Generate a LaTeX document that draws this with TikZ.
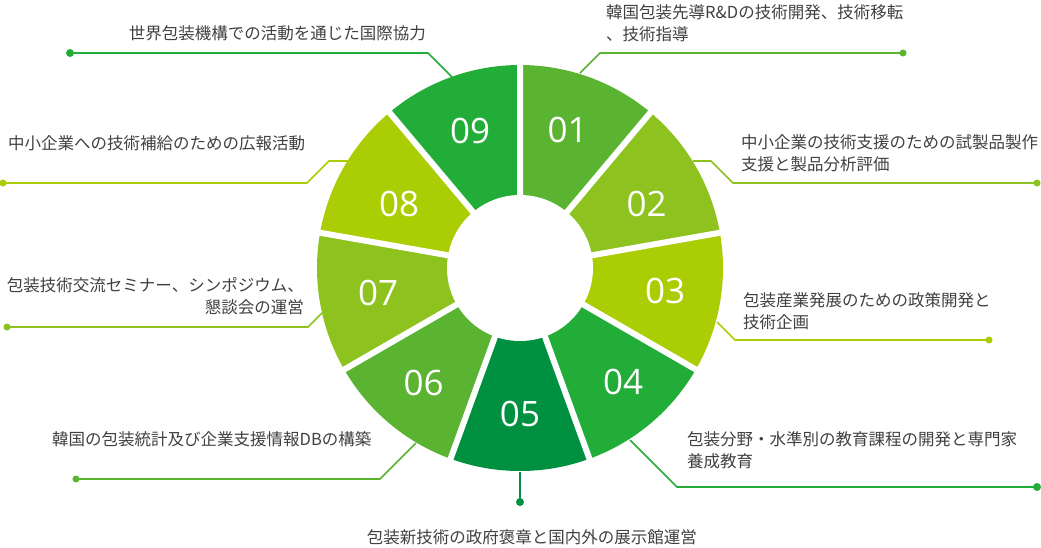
\documentclass[tikz,border=0pt]{standalone}
\usepackage{fontspec}
\setmainfont{Noto Sans CJK JP}
\newfontfamily\numfont{Open Sans}
\usepackage{tikz}
\usetikzlibrary{calc}

\definecolor{c01}{HTML}{5AB432}
\definecolor{c02}{HTML}{8DC21F}
\definecolor{c03}{HTML}{ABCD03}
\definecolor{c04}{HTML}{22AC38}
\definecolor{c05}{HTML}{009140}
\definecolor{txtgray}{HTML}{404040}

\tikzset{
  num/.style={text=white, font=\numfont\fontsize{35}{35}\selectfont, inner sep=0pt},
  txt/.style={text=txtgray, font=\fontsize{16.5}{21.5}\selectfont, inner sep=0pt},
  wire/.style={line width=1.6pt},
  gap/.style={white, line width=6pt},
}

\begin{document}
\begin{tikzpicture}[x=1pt, y=1pt]
        \useasboundingbox (-520,-279) rectangle (521,268);

        % Draw the ring sectors
        \fill[c01] (0,0) -- (50:203) arc[start angle=50, end angle=90, radius=203] -- cycle; % 01
        \fill[c02] (0,0) -- (10:203) arc[start angle=10, end angle=50, radius=203] -- cycle; % 02
        \fill[c03] (0,0) -- (-30:203) arc[start angle=-30, end angle=10, radius=203] -- cycle; % 03
        \fill[c04] (0,0) -- (-70:203) arc[start angle=-70, end angle=-30, radius=203] -- cycle; % 04
        \fill[c05] (0,0) -- (-110:203) arc[start angle=-110, end angle=-70, radius=203] -- cycle; % 05
        \fill[c01] (0,0) -- (-150:203) arc[start angle=-150, end angle=-110, radius=203] -- cycle; % 06
        \fill[c02] (0,0) -- (170:203) arc[start angle=170, end angle=210, radius=203] -- cycle; % 07
        \fill[c03] (0,0) -- (130:203) arc[start angle=130, end angle=170, radius=203] -- cycle; % 08
        \fill[c04] (0,0) -- (90:203) arc[start angle=90, end angle=130, radius=203] -- cycle; % 09

        % white gaps and the hole
        \draw[gap] (0,0) -- (10:210) (0,0) -- (50:210) (0,0) -- (90:210)
                   (0,0) -- (130:210) (0,0) -- (170:210) (0,0) -- (210:210)
                   (0,0) -- (250:210) (0,0) -- (290:210) (0,0) -- (330:210);
        \fill[white] (0,0) circle (73);

        % numbers
        \node[num] (n01) at (71:146) {01};
        \node[num] (n02) at (27:142) {02};
        \node[num] (n03) at (-9:147) {03};
        \node[num] (n04) at (-48:154) {04};
        \node[num] (n05) at (-90:146) {05};
        \node[num] (n06) at (230:150) {06};
        \node[num] (n07) at (190:144) {07};
        \node[num] (n08) at (152:137) {08};
        \node[num] (n09) at (110:146) {09};

        % end points of the leaders
        \coordinate (e01) at (60,195);   \coordinate (k01) at (80,215);   \coordinate (d01) at (383,215);
        \coordinate (e02) at (173,107);  \coordinate (k02) at (191,107);  \coordinate (m02) at (213,85);  \coordinate (d02) at (517,85);
        \coordinate (e03) at (197,-54);  \coordinate (k03) at (215,-72);  \coordinate (d03) at (469,-72);
        \coordinate (e04) at (110,-172); \coordinate (k04) at (157,-219); \coordinate (d04) at (517,-219);
        \coordinate (e05) at (0,-204);   \coordinate (d05) at (0,-234);
        \coordinate (e06) at (-104,-175); \coordinate (k06) at (-140,-211); \coordinate (d06) at (-444,-211);
        \coordinate (e07) at (-198,-45); \coordinate (k07) at (-212,-59); \coordinate (d07) at (-513,-59);
        \coordinate (e08) at (-172,107); \coordinate (k08) at (-191,107); \coordinate (m08) at (-213,85); \coordinate (d08) at (-517,85);
        \coordinate (e09) at (-68,191);  \coordinate (k09) at (-92,215);  \coordinate (d09) at (-450,215);

        % draw the leaders
        \draw[wire, c01] (e01) -- (k01) -- (d01);
        \draw[wire, c02] (e02) -- (k02) -- (m02) -- (d02);
        \draw[wire, c03] (e03) -- (k03) -- (d03);
        \draw[wire, c04] (e04) -- (k04) -- (d04);
        \draw[wire, c05] (e05) -- (d05);
        \draw[wire, c01] (e06) -- (k06) -- (d06);
        \draw[wire, c02] (e07) -- (k07) -- (d07);
        \draw[wire, c03] (e08) -- (k08) -- (m08) -- (d08);
        \draw[wire, c04] (e09) -- (k09) -- (d09);

        % put the dots where they belong
            \fill[c01] (d01) circle (3.5);
            \fill[c02] (d02) circle (3.5);
            \fill[c03] (d03) circle (3.5);
            \fill[c04] (d04) circle (4);
            \fill[c05] (d05) circle (4);
            \fill[c01] (d06) circle (3.5);
            \fill[c02] (d07) circle (3.5);
            \fill[c03] (d08) circle (3.5);
            \fill[c04] (d09) circle (4);

        % the texts
        \node[txt, anchor=west, align=left] (t01) at (86,245) {韓国包装先導R\&Dの技術開発、技術移転\\、技術指導};
        \node[txt, anchor=west, align=left] (t02) at (221,115) {中小企業の技術支援のための試製品製作\\支援と製品分析評価};
        \node[txt, anchor=west, align=left] (t03) at (223,-43) {包装産業発展のための政策開発と\\技術企画};
        \node[txt, anchor=west, align=left] (t04) at (167,-182) {包装分野・水準別の教育課程の開発と専門家\\養成教育};
        \node[txt] (t05) at (12,-269) {包装新技術の政府褒章と国内外の展示館運営};
        \node[txt, anchor=west] (t06) at (-468,-171) {韓国の包装統計及び企業支援情報DBの構築};
        \node[txt, anchor=east, align=right] (t07) at (-216,-28) {包装技術交流セミナー、シンポジウム、\\懇談会の運営};
        \node[txt, anchor=west] (t08) at (-512,125) {中小企業への技術補給のための広報活動};
        \node[txt, anchor=east] (t09) at (-94,235) {世界包装機構での活動を通じた国際協力};
    \end{tikzpicture}
\end{document}
